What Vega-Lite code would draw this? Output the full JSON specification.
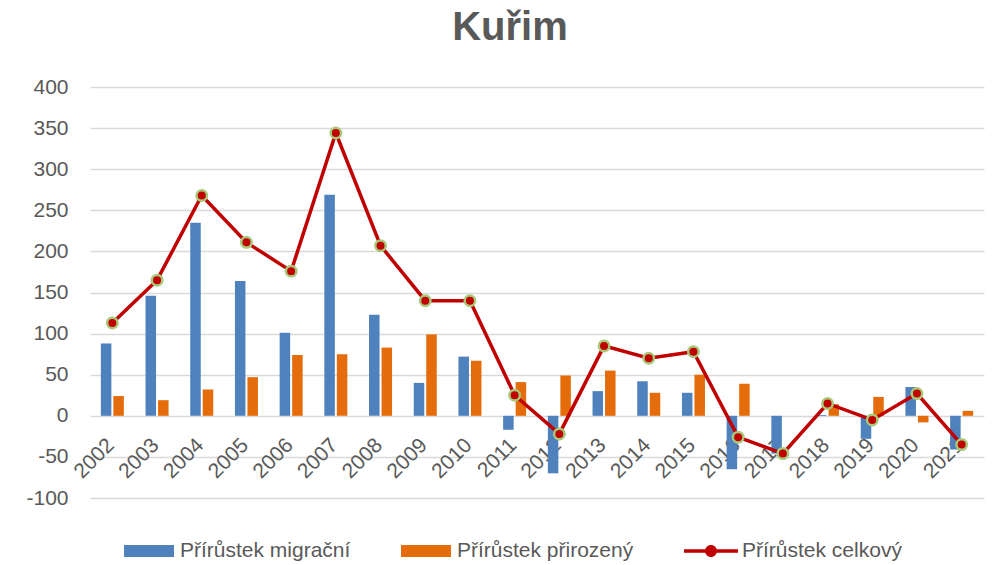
{
  "$schema": "https://vega.github.io/schema/vega-lite/v6.json",
  "width": 894,
  "height": 411,
  "autosize": {"type": "none"},
  "padding": {"left": 90, "top": 87, "right": 11, "bottom": 67},
  "background": "white",
  "config": {"view": {"stroke": null}},
  "title": {
    "text": "Kuřim",
    "fontSize": 40,
    "fontWeight": "bold",
    "color": "#595959",
    "font": "Liberation Sans",
    "anchor": "middle",
    "dx": -27,
    "offset": 28
  },
  "datasets": {
    "rows": [
      {"rok": "2002", "typ": "Přírůstek migrační", "hodnota": 88},
      {"rok": "2003", "typ": "Přírůstek migrační", "hodnota": 146},
      {"rok": "2004", "typ": "Přírůstek migrační", "hodnota": 235},
      {"rok": "2005", "typ": "Přírůstek migrační", "hodnota": 164},
      {"rok": "2006", "typ": "Přírůstek migrační", "hodnota": 101},
      {"rok": "2007", "typ": "Přírůstek migrační", "hodnota": 269},
      {"rok": "2008", "typ": "Přírůstek migrační", "hodnota": 123},
      {"rok": "2009", "typ": "Přírůstek migrační", "hodnota": 40},
      {"rok": "2010", "typ": "Přírůstek migrační", "hodnota": 72},
      {"rok": "2011", "typ": "Přírůstek migrační", "hodnota": -17},
      {"rok": "2012", "typ": "Přírůstek migrační", "hodnota": -70},
      {"rok": "2013", "typ": "Přírůstek migrační", "hodnota": 30},
      {"rok": "2014", "typ": "Přírůstek migrační", "hodnota": 42},
      {"rok": "2015", "typ": "Přírůstek migrační", "hodnota": 28},
      {"rok": "2016", "typ": "Přírůstek migrační", "hodnota": -65},
      {"rok": "2017", "typ": "Přírůstek migrační", "hodnota": -46},
      {"rok": "2018", "typ": "Přírůstek migrační", "hodnota": 1},
      {"rok": "2019", "typ": "Přírůstek migrační", "hodnota": -28},
      {"rok": "2020", "typ": "Přírůstek migrační", "hodnota": 35},
      {"rok": "2021", "typ": "Přírůstek migrační", "hodnota": -41},
      {"rok": "2002", "typ": "Přírůstek přirozený", "hodnota": 24},
      {"rok": "2003", "typ": "Přírůstek přirozený", "hodnota": 19},
      {"rok": "2004", "typ": "Přírůstek přirozený", "hodnota": 32},
      {"rok": "2005", "typ": "Přírůstek přirozený", "hodnota": 47},
      {"rok": "2006", "typ": "Přírůstek přirozený", "hodnota": 74},
      {"rok": "2007", "typ": "Přírůstek přirozený", "hodnota": 75},
      {"rok": "2008", "typ": "Přírůstek přirozený", "hodnota": 83},
      {"rok": "2009", "typ": "Přírůstek přirozený", "hodnota": 99},
      {"rok": "2010", "typ": "Přírůstek přirozený", "hodnota": 67},
      {"rok": "2011", "typ": "Přírůstek přirozený", "hodnota": 41},
      {"rok": "2012", "typ": "Přírůstek přirozený", "hodnota": 49},
      {"rok": "2013", "typ": "Přírůstek přirozený", "hodnota": 55},
      {"rok": "2014", "typ": "Přírůstek přirozený", "hodnota": 28},
      {"rok": "2015", "typ": "Přírůstek přirozený", "hodnota": 50},
      {"rok": "2016", "typ": "Přírůstek přirozený", "hodnota": 39},
      {"rok": "2017", "typ": "Přírůstek přirozený", "hodnota": 0},
      {"rok": "2018", "typ": "Přírůstek přirozený", "hodnota": 14},
      {"rok": "2019", "typ": "Přírůstek přirozený", "hodnota": 23},
      {"rok": "2020", "typ": "Přírůstek přirozený", "hodnota": -8},
      {"rok": "2021", "typ": "Přírůstek přirozený", "hodnota": 6},
      {"rok": "2002", "typ": "Přírůstek celkový", "hodnota": 113},
      {"rok": "2003", "typ": "Přírůstek celkový", "hodnota": 165},
      {"rok": "2004", "typ": "Přírůstek celkový", "hodnota": 268},
      {"rok": "2005", "typ": "Přírůstek celkový", "hodnota": 211},
      {"rok": "2006", "typ": "Přírůstek celkový", "hodnota": 176},
      {"rok": "2007", "typ": "Přírůstek celkový", "hodnota": 344},
      {"rok": "2008", "typ": "Přírůstek celkový", "hodnota": 207},
      {"rok": "2009", "typ": "Přírůstek celkový", "hodnota": 140},
      {"rok": "2010", "typ": "Přírůstek celkový", "hodnota": 140},
      {"rok": "2011", "typ": "Přírůstek celkový", "hodnota": 25},
      {"rok": "2012", "typ": "Přírůstek celkový", "hodnota": -22},
      {"rok": "2013", "typ": "Přírůstek celkový", "hodnota": 85},
      {"rok": "2014", "typ": "Přírůstek celkový", "hodnota": 70},
      {"rok": "2015", "typ": "Přírůstek celkový", "hodnota": 78},
      {"rok": "2016", "typ": "Přírůstek celkový", "hodnota": -26},
      {"rok": "2017", "typ": "Přírůstek celkový", "hodnota": -46},
      {"rok": "2018", "typ": "Přírůstek celkový", "hodnota": 15},
      {"rok": "2019", "typ": "Přírůstek celkový", "hodnota": -5},
      {"rok": "2020", "typ": "Přírůstek celkový", "hodnota": 27},
      {"rok": "2021", "typ": "Přírůstek celkový", "hodnota": -35}
    ]
  },
  "data": {"name": "rows"},
  "encoding": {
    "x": {
      "field": "rok",
      "type": "nominal",
      "scale": {"paddingInner": 0.485, "paddingOuter": 0.2425},
      "axis": {
        "title": null,
        "domain": false,
        "ticks": false,
        "offset": -83,
        "labelAngle": -45,
        "labelFontSize": 21,
        "labelColor": "#595959",
        "labelFont": "Liberation Sans",
        "labelPadding": 19,
        "labelOffset": -9,
        "labelOverlap": false,
        "grid": false
      }
    },
    "y": {
      "field": "hodnota",
      "type": "quantitative",
      "scale": {"domain": [-100, 400], "nice": false, "zero": false},
      "axis": {
        "title": null,
        "domain": false,
        "ticks": false,
        "values": [-100, -50, 0, 50, 100, 150, 200, 250, 300, 350, 400],
        "labelExpr": "'' + datum.value",
        "labelFontSize": 21,
        "labelColor": "#595959",
        "labelFont": "Liberation Sans",
        "labelPadding": 22,
        "grid": true,
        "gridColor": "#D9D9D9",
        "gridWidth": 1.5
      }
    }
  },
  "layer": [
    {
      "transform": [{"filter": "datum.typ !== 'Přírůstek celkový'"}],
      "mark": {"type": "bar"},
      "encoding": {
        "xOffset": {
          "field": "typ",
          "type": "nominal",
          "sort": ["Přírůstek migrační", "Přírůstek přirozený"],
          "scale": {"paddingInner": 0.16, "paddingOuter": 0}
        },
        "color": {
          "field": "typ",
          "type": "nominal",
          "scale": {
            "domain": ["Přírůstek migrační", "Přírůstek přirozený", "Přírůstek celkový"],
            "range": ["#4F81BD", "#E46C0A", "#C00000"]
          },
          "legend": {
            "title": null,
            "orient": "none",
            "legendX": 33,
            "legendY": 438,
            "direction": "horizontal",
            "padding": 0,
            "labelFontSize": 21,
            "labelColor": "#595959",
            "labelFont": "Liberation Sans",
            "labelOffset": 5,
            "columnPadding": 47,
            "symbolSize": 2500,
            "symbolType": "M-1,-0.24H1V0.24H-1Z",
            "labelLimit": 400,
            "encode": {
              "symbols": {
                "update": {
                  "shape": {"signal": "datum.value === 'Přírůstek celkový' ? 'M-1.08,-0.07H1.08V0.07H-1.08Z M-0.24,0A0.24,0.24 0 1,1 0.24,0A0.24,0.24 0 1,1 -0.24,0Z' : 'M-1,-0.24H1V0.24H-1Z'"},
                  "fill": {"signal": "scale('color', datum.value)"},
                  "stroke": {"value": "transparent"},
                  "opacity": {"value": 1}
                }
              }
            }
          }
        }
      }
    },
    {
      "transform": [{"filter": "datum.typ === 'Přírůstek celkový'"}],
      "mark": {"type": "line", "color": "#C00000", "strokeWidth": 3.5},
      "encoding": {}
    },
    {
      "transform": [{"filter": "datum.typ === 'Přírůstek celkový'"}],
      "mark": {"type": "point", "filled": true, "fill": "#C00000", "stroke": "#A9C97A", "strokeWidth": 2.5, "size": 110, "opacity": 1, "strokeOpacity": 1},
      "encoding": {}
    }
  ]
}
